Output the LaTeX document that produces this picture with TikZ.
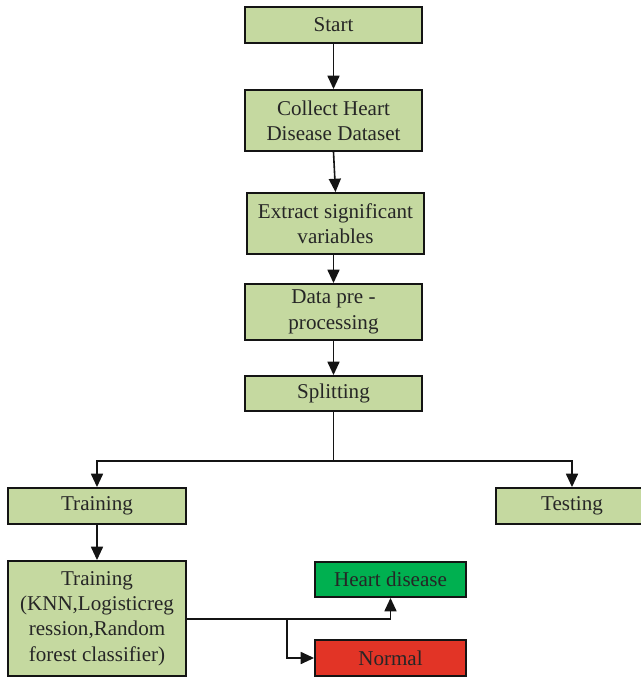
\documentclass[tikz,border=0pt]{standalone}
\usepackage{fontspec}
\setmainfont{Liberation Serif}
\usetikzlibrary{arrows.meta}
\definecolor{boxgreen}{RGB}{197,217,160}
\definecolor{hdgreen}{RGB}{0,176,80}
\definecolor{nred}{RGB}{226,52,38}
\definecolor{edge}{RGB}{20,20,20}
\tikzset{
  box/.style={draw=edge, line width=1.4pt, fill=boxgreen, align=center, inner sep=1pt,
    font=\fontsize{15.8pt}{19pt}\selectfont, text=black!85},
  conn/.style={draw=edge, line width=1.2pt, -{Triangle[length=10pt,width=9pt]}},
  line/.style={draw=edge, line width=1.2pt}
}
\begin{document}
\begin{tikzpicture}[x=0.75pt,y=-0.75pt]
\useasboundingbox (0,0) rectangle (640,678);
\node[box, minimum width=132.75pt, minimum height=27pt] (start) at (333.5,25) {Start};
\node[box, minimum width=132.75pt, minimum height=45.75pt] (collect) at (333.5,120.5) {Collect Heart\\Disease Dataset};
\node[box, minimum width=132.75pt, minimum height=45.75pt] (extract) at (335.5,223.5) {Extract significant\\variables};
\node[box, minimum width=132.75pt, minimum height=42pt] (pre) at (333.5,312) {Data pre -\\processing};
\node[box, minimum width=132.75pt, minimum height=26.25pt] (split) at (333.5,393.5) {Splitting};
\node[box, minimum width=133.5pt, minimum height=27pt] (train) at (97,506) {Training};
\node[box, minimum width=114pt, minimum height=27pt] (test) at (572,506) {Testing};
\node[box, minimum width=133.5pt, minimum height=86.25pt] (model) at (97,618.5) {Training\\(KNN,Logisticreg\\ression,Random\\forest classifier)};
\node[box, fill=hdgreen, minimum width=113.25pt, minimum height=26.25pt] (heart) at (390.5,579.5) {Heart disease};
\node[box, fill=nred, minimum width=113.25pt, minimum height=27pt] (normal) at (390.5,658) {Normal};
\coordinate (sj) at (333.5,461);
\coordinate (bj) at (287,619);
\draw[conn] (start) -- (collect);
\draw[conn] (collect.south) -- (extract.north);
\draw[conn] (extract.south -| pre.north) -- (pre.north);
\draw[conn] (pre) -- (split);
\draw[line] (split.south) -- (sj);
\draw[conn] (sj) -| (train.north);
\draw[conn] (sj) -| (test.north);
\draw[conn] (train) -- (model);
\draw[conn] (model.east |- bj) -| (heart.south);
\draw[conn] (bj) |- (normal.west);
\end{tikzpicture}
\end{document}
